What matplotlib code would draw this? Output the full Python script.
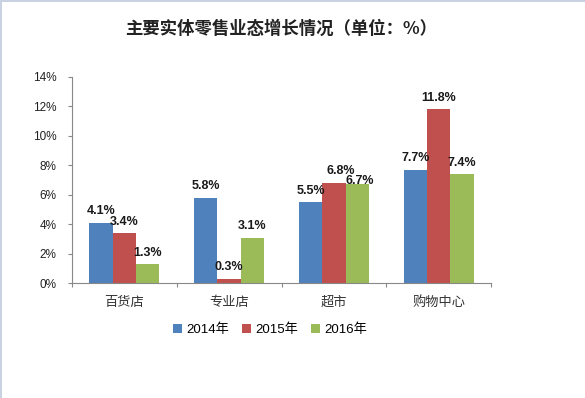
import matplotlib
matplotlib.use("Agg")
import matplotlib.pyplot as plt
import matplotlib.patches as mpatches
import numpy as np

plt.rcParams['font.family'] = ['Liberation Sans', 'Noto Sans CJK SC', 'DejaVu Sans']

title = "主要实体零售业态增长情况（单位：%）"
categories = ["百货店", "专业店", "超市", "购物中心"]
series_names = ["2014年", "2015年", "2016年"]
v2014 = [4.1, 5.8, 5.5, 7.7]
v2015 = [3.4, 0.3, 6.8, 11.8]
v2016 = [1.3, 3.1, 6.7, 7.4]
yticks = [0, 2, 4, 6, 8, 10, 12, 14]
colors = ["#4F81BD", "#C0504D", "#9BBB59"]

W, H = 585, 398
fig = plt.figure(figsize=(W / 100, H / 100), dpi=100)
fig.patch.set_facecolor("white")

# light frame on top and left
fig.add_artist(mpatches.Rectangle((0, 1 - 2 / H), 1, 2 / H, transform=fig.transFigure,
                                  color="#c8d2e3", lw=0))
fig.add_artist(mpatches.Rectangle((0, 0), 2 / W, 1, transform=fig.transFigure,
                                  color="#c8d2e3", lw=0))

ax_l, ax_r, ax_t, ax_b = 72, 491, 76.7, 283.3
ax = fig.add_axes([ax_l / W, 1 - ax_b / H, (ax_r - ax_l) / W, (ax_b - ax_t) / H])

# label nudges (points) to mimic the reference's manual placement
nudges = {(1, 2): (5, 4), (2, 2): (2, -1.5)}

x = np.arange(len(categories))
bw = 0.222
for i, (vals, c) in enumerate(zip([v2014, v2015, v2016], colors)):
    pos = x + (i - 1) * bw
    ax.bar(pos, vals, width=bw, color=c, label=series_names[i], zorder=2)
    for j, (px, v) in enumerate(zip(pos, vals)):
        off = nudges.get((i, j), (0, 4))
        ax.annotate(f"{v}%", (px, v), xytext=off, textcoords="offset points",
                    ha="center", va="bottom", fontsize=9, fontweight="bold",
                    color="#1a1a1a", zorder=3)

ax.set_xlim(-0.5, len(categories) - 0.5)
ax.set_ylim(0, 14)
ax.set_yticks(yticks)
ax.set_yticklabels([f"{t}%" for t in yticks], fontsize=8.5, color="#222222")
ax.set_xticks(np.arange(-0.5, len(categories), 1.0))
ax.set_xticklabels([])
ax.set_xticks(x, minor=True)
ax.set_xticklabels(categories, minor=True, fontsize=9.5, color="#333333",
                   family=['Noto Sans CJK SC'])
ax.tick_params(axis="x", which="minor", length=0, pad=9)
ax.tick_params(axis="x", which="major", length=3, color="#888888", direction="out")
ax.tick_params(axis="y", length=3, color="#888888", direction="out", pad=8)

for s in ["top", "right"]:
    ax.spines[s].set_visible(False)
for s in ["left", "bottom"]:
    ax.spines[s].set_color("#888888")
    ax.spines[s].set_linewidth(0.8)

fig.text(281 / W, 1 - 29 / H, title, ha="center", va="center", fontsize=12.5,
         fontweight="bold", family=['Noto Sans CJK SC'], color="#222222")

leg = fig.legend(loc="center", bbox_to_anchor=(270 / W, 1 - 330 / H), ncol=3,
                 frameon=False, handlelength=0.7, handleheight=0.7,
                 handletextpad=0.3, columnspacing=1.0,
                 prop={'family': ['Liberation Sans', 'Noto Sans CJK SC'], 'size': 9.5})

fig.savefig("out.png", dpi=100, facecolor="white")
